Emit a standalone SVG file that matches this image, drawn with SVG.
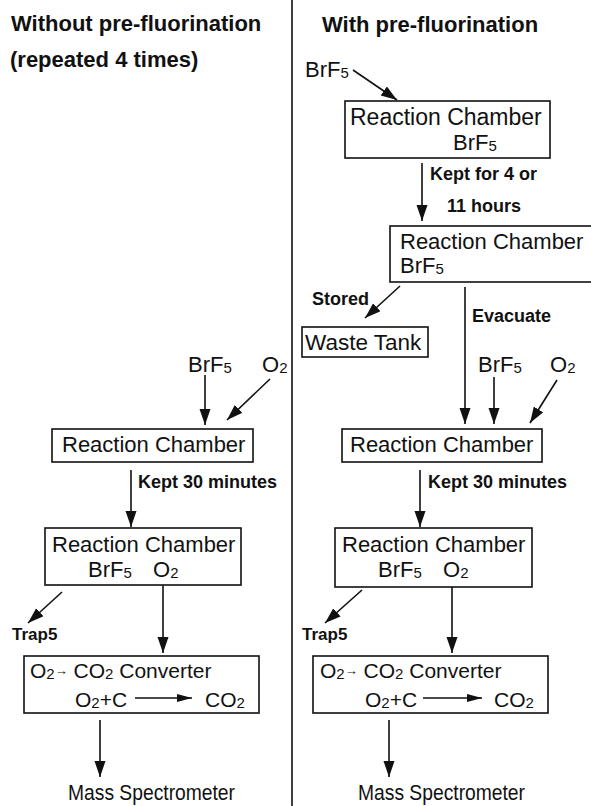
<svg xmlns="http://www.w3.org/2000/svg" width="591" height="806" viewBox="0 0 591 806">
<style>
text{font-family:"Liberation Sans",Arial,sans-serif;fill:#111}
.t{font-size:22px;font-weight:bold}
.n{font-size:22px}
.l{font-size:18px;font-weight:bold}
.s{font-size:15px}
.box{fill:#fff;stroke:#111;stroke-width:1.6}
.c line,.c path{stroke:#111;stroke-width:1.6;fill:none}
</style>
<defs>
<marker id="ah" markerUnits="userSpaceOnUse" markerWidth="17" markerHeight="12" refX="16" refY="5.5" orient="auto">
<path d="M0,0 L16,5.5 L0,11 Z" fill="#111"/>
</marker>
<marker id="ah2" markerUnits="userSpaceOnUse" markerWidth="16" markerHeight="10" refX="15" refY="4" orient="auto">
<path d="M0,0 L15,4 L0,8 Z" fill="#111"/>
</marker>
</defs>
<rect width="591" height="806" fill="#fff"/>
<line x1="292" y1="0" x2="292" y2="806" stroke="#111" stroke-width="1.6"/>

<g id="titles">
<text class="t" x="11" y="31">Without pre-fluorination</text>
<text class="t" x="10" y="67">(repeated 4 times)</text>
<text class="t" x="322" y="32">With pre-fluorination</text>
</g>

<g class="c" id="connectors">
<!-- right side -->
<line x1="353" y1="70" x2="397" y2="100" marker-end="url(#ah)"/>
<line x1="422" y1="163" x2="422" y2="221" marker-end="url(#ah)"/>
<line x1="400" y1="286" x2="365" y2="318" marker-end="url(#ah)"/>
<line x1="465" y1="287" x2="465" y2="424" marker-end="url(#ah)"/>
<line x1="494" y1="377" x2="494" y2="424" marker-end="url(#ah)"/>
<line x1="557" y1="380" x2="530" y2="423" marker-end="url(#ah)"/>
<line x1="420" y1="470" x2="420" y2="527" marker-end="url(#ah)"/>
<line x1="362" y1="590" x2="325" y2="623" marker-end="url(#ah)"/>
<line x1="452" y1="587" x2="452" y2="653" marker-end="url(#ah)"/>
<line x1="389" y1="720" x2="389" y2="777" marker-end="url(#ah)"/>
<!-- left side -->
<line x1="205" y1="375" x2="205" y2="425" marker-end="url(#ah)"/>
<line x1="270" y1="379" x2="227" y2="420" marker-end="url(#ah)"/>
<line x1="131" y1="470" x2="131" y2="527" marker-end="url(#ah)"/>
<line x1="62" y1="592" x2="28" y2="623" marker-end="url(#ah)"/>
<line x1="163" y1="585" x2="163" y2="653" marker-end="url(#ah)"/>
<line x1="100" y1="720" x2="100" y2="777" marker-end="url(#ah)"/>
</g>

<g id="labels">
<text class="n" x="305" y="77">BrF<tspan class="s" dy="1">5</tspan></text>
<text class="l" x="430" y="180">Kept for 4 or</text>
<text class="l" x="447" y="212">11 hours</text>
<text class="l" x="312" y="305">Stored</text>
<text class="l" x="472" y="322">Evacuate</text>
<text class="n" x="478" y="372">BrF<tspan class="s" dy="1">5</tspan></text>
<text class="n" x="550" y="372">O<tspan class="s" dy="1">2</tspan></text>
<text class="l" x="428" y="488">Kept 30 minutes</text>
<text class="l" x="302" y="640" style="font-size:17px">Trap5</text>
<text class="n" x="358" y="800" style="font-size:22px" textLength="167" lengthAdjust="spacingAndGlyphs">Mass Spectrometer</text>

<text class="n" x="188" y="372">BrF<tspan class="s" dy="1">5</tspan></text>
<text class="n" x="262" y="372">O<tspan class="s" dy="1">2</tspan></text>
<text class="l" x="138" y="488">Kept 30 minutes</text>
<text class="l" x="12" y="640" style="font-size:17px">Trap5</text>
<text class="n" x="68" y="800" style="font-size:22px" textLength="167" lengthAdjust="spacingAndGlyphs">Mass Spectrometer</text>
</g>

<g id="r-rc1">
<rect class="box" x="345" y="101" width="205" height="57"/>
<text class="n" x="350" y="125" style="font-size:23px">Reaction Chamber</text>
<text class="n" x="453" y="150">BrF<tspan class="s" dy="1">5</tspan></text>
</g>
<g id="r-rc2">
<rect class="box" x="390" y="226" width="220" height="56"/>
<text class="n" x="400" y="249">Reaction Chamber</text>
<text class="n" x="400" y="273">BrF<tspan class="s" dy="1">5</tspan></text>
</g>
<g id="r-waste">
<rect class="box" x="302" y="327" width="126" height="30"/>
<text class="n" x="305" y="350" style="font-size:22.5px">Waste Tank</text>
</g>
<g id="r-rc3">
<rect class="box" x="342" y="429" width="200" height="33"/>
<text class="n" x="350" y="452">Reaction Chamber</text>
</g>
<g id="r-rc4">
<rect class="box" x="335" y="528" width="197" height="59"/>
<text class="n" x="342" y="552">Reaction Chamber</text>
<text class="n" x="378" y="577">BrF<tspan class="s" dy="1">5</tspan></text>
<text class="n" x="443" y="577">O<tspan class="s" dy="1">2</tspan></text>
</g>
<g id="r-conv">
<rect class="box" x="313" y="656" width="235" height="57"/>
<text class="n" x="320" y="678" style="font-size:21px">O<tspan class="s" dy="1">2</tspan><tspan style="font-size:13px" dy="-4">→</tspan><tspan dy="3"> CO</tspan><tspan class="s" dy="1">2</tspan><tspan dy="-1"> Converter</tspan></text>
<text class="n" x="365" y="707" style="font-size:21px">O<tspan class="s" dy="1">2</tspan><tspan dy="-1">+C</tspan></text>
<line x1="423" y1="698" x2="482" y2="698" stroke="#111" stroke-width="1.4" marker-end="url(#ah2)"/>
<text class="n" x="494" y="707" style="font-size:21px">CO<tspan class="s" dy="1">2</tspan></text>
</g>

<g id="l-rc3">
<rect class="box" x="52" y="429" width="201" height="33"/>
<text class="n" x="62" y="452">Reaction Chamber</text>
</g>
<g id="l-rc4">
<rect class="box" x="45" y="528" width="196" height="57"/>
<text class="n" x="52" y="552">Reaction Chamber</text>
<text class="n" x="88" y="577">BrF<tspan class="s" dy="1">5</tspan></text>
<text class="n" x="153" y="577">O<tspan class="s" dy="1">2</tspan></text>
</g>
<g id="l-conv">
<rect class="box" x="24" y="656" width="235" height="57"/>
<text class="n" x="30" y="678" style="font-size:21px">O<tspan class="s" dy="1">2</tspan><tspan style="font-size:13px" dy="-4">→</tspan><tspan dy="3"> CO</tspan><tspan class="s" dy="1">2</tspan><tspan dy="-1"> Converter</tspan></text>
<text class="n" x="75" y="707" style="font-size:21px">O<tspan class="s" dy="1">2</tspan><tspan dy="-1">+C</tspan></text>
<line x1="135" y1="698" x2="192" y2="698" stroke="#111" stroke-width="1.4" marker-end="url(#ah2)"/>
<text class="n" x="205" y="707" style="font-size:21px">CO<tspan class="s" dy="1">2</tspan></text>
</g>
</svg>
